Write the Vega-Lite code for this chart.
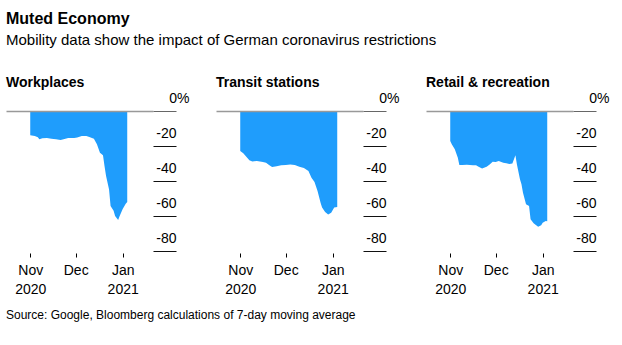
{
  "$schema": "https://vega.github.io/schema/vega-lite/v6.json",
  "padding": {"left": 6, "top": 11, "right": 5, "bottom": 5},
  "background": "white",
  "config": {
    "font": "Liberation Sans",
    "view": {"stroke": null}
  },
  "title": {
    "text": "Muted Economy",
    "subtitle": "Mobility data show the impact of German coronavirus restrictions",
    "anchor": "start",
    "frame": "group",
    "fontSize": 16,
    "fontWeight": "bold",
    "color": "#000",
    "subtitleFontSize": 15,
    "subtitleColor": "#000",
    "subtitlePadding": 6,
    "offset": 28
  },
  "data": {
    "values": [
      {"c": "Workplaces", "date": "2020-11-01", "v": -13.9},
      {"c": "Workplaces", "date": "2020-11-04", "v": -14.3},
      {"c": "Workplaces", "date": "2020-11-06", "v": -15.0},
      {"c": "Workplaces", "date": "2020-11-07", "v": -16.2},
      {"c": "Workplaces", "date": "2020-11-09", "v": -15.6},
      {"c": "Workplaces", "date": "2020-11-12", "v": -15.4},
      {"c": "Workplaces", "date": "2020-11-15", "v": -15.8},
      {"c": "Workplaces", "date": "2020-11-18", "v": -16.2},
      {"c": "Workplaces", "date": "2020-11-21", "v": -16.6},
      {"c": "Workplaces", "date": "2020-11-23", "v": -16.2},
      {"c": "Workplaces", "date": "2020-11-26", "v": -15.4},
      {"c": "Workplaces", "date": "2020-11-30", "v": -15.4},
      {"c": "Workplaces", "date": "2020-12-02", "v": -15.2},
      {"c": "Workplaces", "date": "2020-12-05", "v": -14.3},
      {"c": "Workplaces", "date": "2020-12-08", "v": -14.3},
      {"c": "Workplaces", "date": "2020-12-10", "v": -14.9},
      {"c": "Workplaces", "date": "2020-12-13", "v": -15.8},
      {"c": "Workplaces", "date": "2020-12-15", "v": -19.0},
      {"c": "Workplaces", "date": "2020-12-17", "v": -23.8},
      {"c": "Workplaces", "date": "2020-12-19", "v": -25.3},
      {"c": "Workplaces", "date": "2020-12-20", "v": -31.4},
      {"c": "Workplaces", "date": "2020-12-21", "v": -37.0},
      {"c": "Workplaces", "date": "2020-12-23", "v": -44.8},
      {"c": "Workplaces", "date": "2020-12-24", "v": -54.3},
      {"c": "Workplaces", "date": "2020-12-26", "v": -57.0},
      {"c": "Workplaces", "date": "2020-12-27", "v": -60.0},
      {"c": "Workplaces", "date": "2020-12-29", "v": -62.3},
      {"c": "Workplaces", "date": "2020-12-30", "v": -60.0},
      {"c": "Workplaces", "date": "2021-01-01", "v": -56.0},
      {"c": "Workplaces", "date": "2021-01-03", "v": -53.0},
      {"c": "Workplaces", "date": "2021-01-04", "v": -52.0},
      {"c": "Transit stations", "date": "2020-11-01", "v": -22.9},
      {"c": "Transit stations", "date": "2020-11-03", "v": -24.2},
      {"c": "Transit stations", "date": "2020-11-05", "v": -26.1},
      {"c": "Transit stations", "date": "2020-11-07", "v": -28.2},
      {"c": "Transit stations", "date": "2020-11-09", "v": -28.8},
      {"c": "Transit stations", "date": "2020-11-12", "v": -28.6},
      {"c": "Transit stations", "date": "2020-11-16", "v": -29.1},
      {"c": "Transit stations", "date": "2020-11-18", "v": -29.5},
      {"c": "Transit stations", "date": "2020-11-20", "v": -30.9},
      {"c": "Transit stations", "date": "2020-11-22", "v": -32.0},
      {"c": "Transit stations", "date": "2020-11-25", "v": -31.6},
      {"c": "Transit stations", "date": "2020-11-28", "v": -31.0},
      {"c": "Transit stations", "date": "2020-12-01", "v": -30.9},
      {"c": "Transit stations", "date": "2020-12-04", "v": -30.5},
      {"c": "Transit stations", "date": "2020-12-07", "v": -30.9},
      {"c": "Transit stations", "date": "2020-12-10", "v": -31.8},
      {"c": "Transit stations", "date": "2020-12-13", "v": -32.6},
      {"c": "Transit stations", "date": "2020-12-16", "v": -34.3},
      {"c": "Transit stations", "date": "2020-12-18", "v": -38.1},
      {"c": "Transit stations", "date": "2020-12-20", "v": -40.6},
      {"c": "Transit stations", "date": "2020-12-22", "v": -45.7},
      {"c": "Transit stations", "date": "2020-12-24", "v": -52.4},
      {"c": "Transit stations", "date": "2020-12-25", "v": -55.2},
      {"c": "Transit stations", "date": "2020-12-27", "v": -57.7},
      {"c": "Transit stations", "date": "2020-12-29", "v": -59.1},
      {"c": "Transit stations", "date": "2020-12-31", "v": -58.1},
      {"c": "Transit stations", "date": "2021-01-02", "v": -55.2},
      {"c": "Transit stations", "date": "2021-01-04", "v": -54.8},
      {"c": "Retail & recreation", "date": "2020-11-01", "v": -17.1},
      {"c": "Retail & recreation", "date": "2020-11-02", "v": -19.0},
      {"c": "Retail & recreation", "date": "2020-11-04", "v": -21.9},
      {"c": "Retail & recreation", "date": "2020-11-06", "v": -26.7},
      {"c": "Retail & recreation", "date": "2020-11-07", "v": -30.9},
      {"c": "Retail & recreation", "date": "2020-11-09", "v": -30.9},
      {"c": "Retail & recreation", "date": "2020-11-12", "v": -30.7},
      {"c": "Retail & recreation", "date": "2020-11-16", "v": -31.0},
      {"c": "Retail & recreation", "date": "2020-11-18", "v": -31.0},
      {"c": "Retail & recreation", "date": "2020-11-20", "v": -32.0},
      {"c": "Retail & recreation", "date": "2020-11-22", "v": -32.8},
      {"c": "Retail & recreation", "date": "2020-11-25", "v": -31.8},
      {"c": "Retail & recreation", "date": "2020-11-27", "v": -30.5},
      {"c": "Retail & recreation", "date": "2020-11-29", "v": -29.0},
      {"c": "Retail & recreation", "date": "2020-12-01", "v": -29.1},
      {"c": "Retail & recreation", "date": "2020-12-03", "v": -28.6},
      {"c": "Retail & recreation", "date": "2020-12-06", "v": -29.5},
      {"c": "Retail & recreation", "date": "2020-12-08", "v": -29.9},
      {"c": "Retail & recreation", "date": "2020-12-10", "v": -30.3},
      {"c": "Retail & recreation", "date": "2020-12-12", "v": -30.0},
      {"c": "Retail & recreation", "date": "2020-12-14", "v": -25.3},
      {"c": "Retail & recreation", "date": "2020-12-15", "v": -30.5},
      {"c": "Retail & recreation", "date": "2020-12-17", "v": -39.0},
      {"c": "Retail & recreation", "date": "2020-12-18", "v": -41.9},
      {"c": "Retail & recreation", "date": "2020-12-19", "v": -46.7},
      {"c": "Retail & recreation", "date": "2020-12-21", "v": -53.3},
      {"c": "Retail & recreation", "date": "2020-12-23", "v": -54.3},
      {"c": "Retail & recreation", "date": "2020-12-24", "v": -61.9},
      {"c": "Retail & recreation", "date": "2020-12-26", "v": -64.2},
      {"c": "Retail & recreation", "date": "2020-12-29", "v": -66.1},
      {"c": "Retail & recreation", "date": "2020-12-31", "v": -65.3},
      {"c": "Retail & recreation", "date": "2021-01-01", "v": -63.8},
      {"c": "Retail & recreation", "date": "2021-01-03", "v": -62.9},
      {"c": "Retail & recreation", "date": "2021-01-04", "v": -63.0}
    ]
  },
  "facet": {
    "column": {
      "field": "c",
      "type": "nominal",
      "sort": ["Workplaces", "Transit stations", "Retail & recreation"],
      "header": {
        "title": "Source: Google, Bloomberg calculations of 7-day moving average",
        "titleOrient": "bottom",
        "titleAnchor": "start",
        "titleAlign": "left",
        "titleFontSize": 12,
        "titleFontWeight": "normal",
        "titleColor": "#000",
        "titlePadding": 49,
        "labelOrient": "top",
        "labelAnchor": "start",
        "labelAlign": "left",
        "labelFontSize": 14,
        "labelFontWeight": "bold",
        "labelColor": "#000",
        "labelPadding": 21
      }
    }
  },
  "spacing": 63,
  "bounds": "flush",
  "resolve": {"axis": {"x": "independent", "y": "independent"}},
  "spec": {
    "width": 147,
    "height": 140,
    "mark": {"type": "area", "color": "#1f9dfc", "interpolate": "linear"},
    "encoding": {
      "x": {
        "field": "date",
        "type": "temporal",
        "scale": {
          "type": "utc",
          "domain": [
            {"year": 2020, "month": 10, "date": 16, "utc": true},
            {"year": 2021, "month": 1, "date": 21, "utc": true}
          ]
        },
        "axis": {
          "values": [
            {"year": 2020, "month": 11, "date": 1, "utc": true},
            {"year": 2020, "month": 12, "date": 1, "utc": true},
            {"year": 2021, "month": 1, "date": 1, "utc": true}
          ],
          "title": null,
          "domain": false,
          "grid": false,
          "ticks": true,
          "tickSize": 4,
          "tickColor": "#000",
          "offset": 2,
          "labelExpr": "utcmonth(datum.value) === 11 ? 'Dec' : [utcFormat(datum.value, '%b'), utcFormat(datum.value, '%Y')]",
          "labelLineHeight": 19,
          "labelFontSize": 14,
          "labelColor": "#000",
          "labelPadding": 6,
          "labelOverlap": false
        }
      },
      "y": {
        "field": "v",
        "type": "quantitative",
        "stack": null,
        "scale": {"domain": [-80, 0], "nice": false},
        "axis": {
          "orient": "right",
          "values": [0, -20, -40, -60, -80],
          "title": null,
          "domain": false,
          "tickSize": 23,
          "tickWidth": 1,
          "tickColor": {"condition": {"test": "datum.value === 0", "value": "#666"}, "value": "#111"},
          "labelAlign": "right",
          "labelBaseline": "alphabetic",
          "labelOffset": -9,
          "labelPadding": {"condition": {"test": "datum.value === 0", "value": 13}, "value": 0},
          "labelExpr": "datum.value === 0 ? '0%' : '-' + abs(datum.value)",
          "labelFontSize": 14,
          "labelColor": "#000",
          "labelOverlap": false,
          "labelBound": false,
          "grid": true,
          "gridColor": "#999",
          "gridWidth": 1.5,
          "gridOpacity": {"condition": {"test": "datum.value === 0", "value": 1}, "value": 0},
          "zindex": 1
        }
      }
    }
  }
}
